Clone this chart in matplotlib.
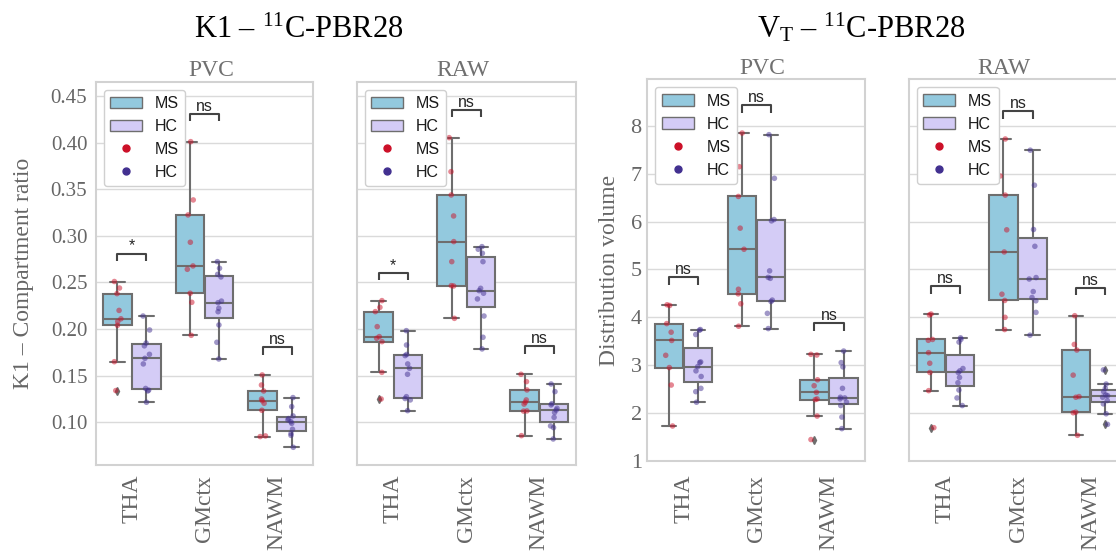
import numpy as np
import pandas as pd
import matplotlib
matplotlib.use("Agg")
import matplotlib.pyplot as plt
import seaborn as sns
from matplotlib.patches import Patch
from matplotlib.lines import Line2D

# ---------------- data ----------------
REGIONS = ["THA", "GMctx", "NAWM"]
GROUPS = ["MS", "HC"]

# K1 - PVC
K1_PVC_THA_MS = [0.251, 0.244, 0.238, 0.220, 0.211, 0.208, 0.204, 0.165, 0.134]
K1_PVC_THA_HC = [0.1215, 0.1336, 0.1345, 0.1363, 0.1626, 0.1686, 0.1729, 0.1820, 0.1850, 0.199, 0.214]
K1_PVC_GM_MS = [0.401, 0.3385, 0.3224, 0.2931, 0.2677, 0.2641, 0.2384, 0.2287, 0.1933]
K1_PVC_GM_HC = [0.1679, 0.1858, 0.2044, 0.2186, 0.2223, 0.2283, 0.2300, 0.2559, 0.2587, 0.2652, 0.2723]
K1_PVC_WM_MS = [0.1508, 0.140, 0.1336, 0.125, 0.1232, 0.1204, 0.1129, 0.0854, 0.0847]
K1_PVC_WM_HC = [0.0732, 0.0860, 0.0880, 0.0925, 0.0989, 0.1007, 0.1025, 0.1040, 0.1068, 0.1168, 0.1265]
K1_PVC_SIG = ["*", "ns", "ns"]

# K1 - RAW
K1_RAW_THA_MS = [0.2305, 0.2233, 0.2187, 0.2026, 0.1919, 0.1901, 0.1865, 0.1536, 0.125]
K1_RAW_THA_HC = [0.1125, 0.1240, 0.1255, 0.1275, 0.1515, 0.1579, 0.1626, 0.1715, 0.1728, 0.1829, 0.1983]
K1_RAW_GM_MS = [0.4053, 0.3688, 0.3438, 0.3213, 0.2938, 0.2723, 0.2466, 0.2462, 0.2115]
K1_RAW_GM_HC = [0.1787, 0.1912, 0.214, 0.2323, 0.2384, 0.2412, 0.2437, 0.2723, 0.2813, 0.2856, 0.2884]
K1_RAW_WM_MS = [0.0857, 0.112, 0.1122, 0.1195, 0.1215, 0.124, 0.1347, 0.1436, 0.1515]
K1_RAW_WM_HC = [0.0821, 0.0943, 0.0961, 0.1053, 0.1105, 0.1132, 0.115, 0.1186, 0.1200, 0.1329, 0.1411]
K1_RAW_SIG = ["*", "ns", "ns"]

# VT - PVC
VT_PVC_THA_MS = [4.262, 4.248, 3.869, 3.689, 3.517, 3.207, 2.951, 2.586, 1.731]
VT_PVC_THA_HC = [2.227, 2.448, 2.517, 2.765, 2.882, 2.972, 3.055, 3.069, 3.641, 3.731, 3.745]
VT_PVC_GM_MS = [7.848, 7.145, 6.524, 5.862, 5.421, 4.586, 4.49, 4.283, 3.814]
VT_PVC_GM_HC = [3.765, 4.083, 4.33, 4.36, 4.814, 4.834, 4.97, 6.014, 6.042, 6.903, 7.814]
VT_PVC_WM_MS = [3.227, 3.213, 2.696, 2.572, 2.434, 2.296, 2.282, 1.938, 1.448]
VT_PVC_WM_HC = [1.676, 1.917, 2.158, 2.228, 2.296, 2.317, 2.331, 2.517, 2.965, 3.055, 3.296]
VT_PVC_SIG = ["ns", "ns", "ns"]

# VT - RAW
VT_RAW_THA_MS = [4.069, 4.05, 3.538, 3.52, 3.262, 3.041, 2.848, 2.469, 1.696]
VT_RAW_THA_HC = [2.158, 2.317, 2.482, 2.634, 2.744, 2.848, 2.883, 2.931, 3.483, 3.540, 3.572]
VT_RAW_GM_MS = [7.724, 6.952, 6.552, 5.827, 5.365, 4.483, 4.352, 4.0, 3.745]
VT_RAW_GM_HC = [3.627, 4.103, 4.345, 4.414, 4.538, 4.80, 4.83, 5.483, 5.834, 6.759, 7.49]
VT_RAW_WM_MS = [4.034, 3.434, 3.317, 2.793, 2.345, 2.331, 2.02, 2.007, 1.537]
VT_RAW_WM_HC = [1.765, 1.986, 2.193, 2.262, 2.331, 2.365, 2.379, 2.448, 2.517, 2.607, 2.903]
VT_RAW_SIG = ["ns", "ns", "ns"]

K1_TICKS = [0.10, 0.15, 0.20, 0.25, 0.30, 0.35, 0.40, 0.45]
VT_TICKS = [1, 2, 3, 4, 5, 6, 7, 8]

# ---------------- style ----------------
sns.set_style("whitegrid")
plt.rcParams["font.family"] = ["Liberation Serif", "DejaVu Serif"]
plt.rcParams["mathtext.fontset"] = "custom"
plt.rcParams["mathtext.rm"] = "Liberation Serif"
plt.rcParams["mathtext.it"] = "Liberation Serif:italic"

BOX_COLORS = {"MS": "#93c9de", "HC": "#d4ccf6"}
PT_COLORS = {"MS": "#cc1028", "HC": "#423090"}
LINE = "#6e6e6e"
GRID = "#dadada"
SPINE = "#d2d2d2"
TICK_COL = "#666666"
SANS = ["Liberation Sans", "DejaVu Sans"]

np.random.seed(7)

fig = plt.figure(figsize=(11.16, 5.51), dpi=100)

RECTS = [
    [0.08575, 0.15608, 0.19498, 0.69564],
    [0.31962, 0.15608, 0.19624, 0.69564],
    [0.58002, 0.16334, 0.19534, 0.69274],
    [0.81452, 0.16334, 0.19534, 0.69274],
]


def draw_panel(ax, ms, hc, sig, ylim, yticks, fmt, show_y, ytick_fs, ytick_pad, xtick_pad,
               sub, sub_x):
    for i in range(3):
        for g, vals, off in (("MS", ms[i], -0.2), ("HC", hc[i], 0.2)):
            ax.boxplot([vals], positions=[i + off], widths=0.39, patch_artist=True,
                       whis=1.5, manage_ticks=False, zorder=2,
                       boxprops=dict(facecolor=BOX_COLORS[g], edgecolor=LINE, linewidth=1.5),
                       medianprops=dict(color=LINE, linewidth=1.5),
                       whiskerprops=dict(color=LINE, linewidth=1.5),
                       capprops=dict(color=LINE, linewidth=1.5),
                       flierprops=dict(marker="d", markerfacecolor=LINE,
                                       markeredgecolor=LINE, markersize=4))
    rows = []
    for i, r in enumerate(REGIONS):
        for v in ms[i]:
            rows.append((r, "MS", v))
        for v in hc[i]:
            rows.append((r, "HC", v))
    df = pd.DataFrame(rows, columns=["region", "group", "value"])
    sns.stripplot(data=df, x="region", y="value", hue="group", order=REGIONS,
                  hue_order=GROUPS, palette=PT_COLORS, dodge=True, jitter=True,
                  size=4, alpha=0.5, linewidth=0, ax=ax, legend=False, zorder=3)

    ax.set_xlim(-0.5, 2.5)
    ax.set_ylim(*ylim)
    span = ylim[1] - ylim[0]
    for i, s in enumerate(sig):
        top = max(max(ms[i]), max(hc[i]))
        yb = top + 0.053 * span
        yt = yb + 0.02 * span
        ax.plot([i - 0.2, i - 0.2, i + 0.2, i + 0.2], [yb, yt, yt, yb],
                color="#444444", lw=1.5, zorder=4, solid_capstyle="butt")
        ax.text(i, yt, s, ha="center", va="bottom", family=SANS, fontsize=11.5,
                color="#262626", zorder=4)

    ax.set_yticks(yticks)
    if show_y:
        ax.set_yticklabels([fmt.format(t) for t in yticks])
    else:
        ax.tick_params(axis="y", labelleft=False)
    ax.tick_params(axis="y", labelsize=ytick_fs, labelcolor=TICK_COL, pad=ytick_pad, length=0)
    ax.set_xticks(range(3))
    ax.set_xticklabels(REGIONS, rotation=90, fontsize=17, color=TICK_COL)
    ax.tick_params(axis="x", pad=xtick_pad, length=0)
    ax.set_xlabel("")
    ax.set_ylabel("")
    ax.xaxis.grid(False)
    ax.yaxis.grid(True, color=GRID, linewidth=1)
    ax.set_axisbelow(True)
    for sp in ax.spines.values():
        sp.set_color(SPINE)
        sp.set_linewidth(1.5)
    ax.set_title(sub, fontsize=17, color="#707070", pad=4, x=sub_x)

    handles = [
        Patch(facecolor=BOX_COLORS["MS"], edgecolor=LINE, linewidth=1.0, label="MS"),
        Patch(facecolor=BOX_COLORS["HC"], edgecolor=LINE, linewidth=1.0, label="HC"),
        Line2D([], [], marker="o", linestyle="", markerfacecolor=PT_COLORS["MS"],
               markeredgecolor=PT_COLORS["MS"], markersize=5, label="MS"),
        Line2D([], [], marker="o", linestyle="", markerfacecolor=PT_COLORS["HC"],
               markeredgecolor=PT_COLORS["HC"], markersize=5, label="HC"),
    ]
    leg = ax.legend(handles=handles, loc="upper left", prop={"family": SANS, "size": 11.5},
                    frameon=True, fancybox=True, edgecolor="#d0d0d0", facecolor="white",
                    framealpha=1.0)
    for t in leg.get_texts():
        t.set_color("#1a1a1a")


K1_LIM = (0.0542, 0.4653)
VT_LIM = (1.0, 8.97)

ax1 = fig.add_axes(RECTS[0])
draw_panel(ax1,
           [K1_PVC_THA_MS, K1_PVC_GM_MS, K1_PVC_WM_MS],
           [K1_PVC_THA_HC, K1_PVC_GM_HC, K1_PVC_WM_HC],
           K1_PVC_SIG, K1_LIM, K1_TICKS, "{:.2f}", True, 15, 6, 7, "PVC", 0.533)
ax1.set_ylabel("K1 – Compartment ratio", fontsize=17, color=TICK_COL)
ax1.yaxis.set_label_coords(-0.284, 0.5)

ax2 = fig.add_axes(RECTS[1], sharey=ax1)
draw_panel(ax2,
           [K1_RAW_THA_MS, K1_RAW_GM_MS, K1_RAW_WM_MS],
           [K1_RAW_THA_HC, K1_RAW_GM_HC, K1_RAW_WM_HC],
           K1_RAW_SIG, K1_LIM, K1_TICKS, "{:.2f}", False, 15, 6, 7, "RAW", 0.485)

ax3 = fig.add_axes(RECTS[2])
draw_panel(ax3,
           [VT_PVC_THA_MS, VT_PVC_GM_MS, VT_PVC_WM_MS],
           [VT_PVC_THA_HC, VT_PVC_GM_HC, VT_PVC_WM_HC],
           VT_PVC_SIG, VT_LIM, VT_TICKS, "{:d}", True, 16, 4, 10, "PVC", 0.528)
ax3.set_ylabel("Distribution volume", fontsize=17, color=TICK_COL)
ax3.yaxis.set_label_coords(-0.125, 0.5)

ax4 = fig.add_axes(RECTS[3], sharey=ax3)
draw_panel(ax4,
           [VT_RAW_THA_MS, VT_RAW_GM_MS, VT_RAW_WM_MS],
           [VT_RAW_THA_HC, VT_RAW_GM_HC, VT_RAW_WM_HC],
           VT_RAW_SIG, VT_LIM, VT_TICKS, "{:d}", False, 16, 4, 10, "RAW", 0.437)

fig.text(299 / 1116, 1 - 38 / 551, r"K1 – $\mathrm{^{11}}$C-PBR28", ha="center",
         va="baseline", fontsize=22, color="black")
fig.text(861 / 1116, 1 - 38 / 551, r"V$\mathrm{_{T}}$ – $\mathrm{^{11}}$C-PBR28",
         ha="center", va="baseline", fontsize=22, color="black")

fig.savefig("out.png", dpi=100)
